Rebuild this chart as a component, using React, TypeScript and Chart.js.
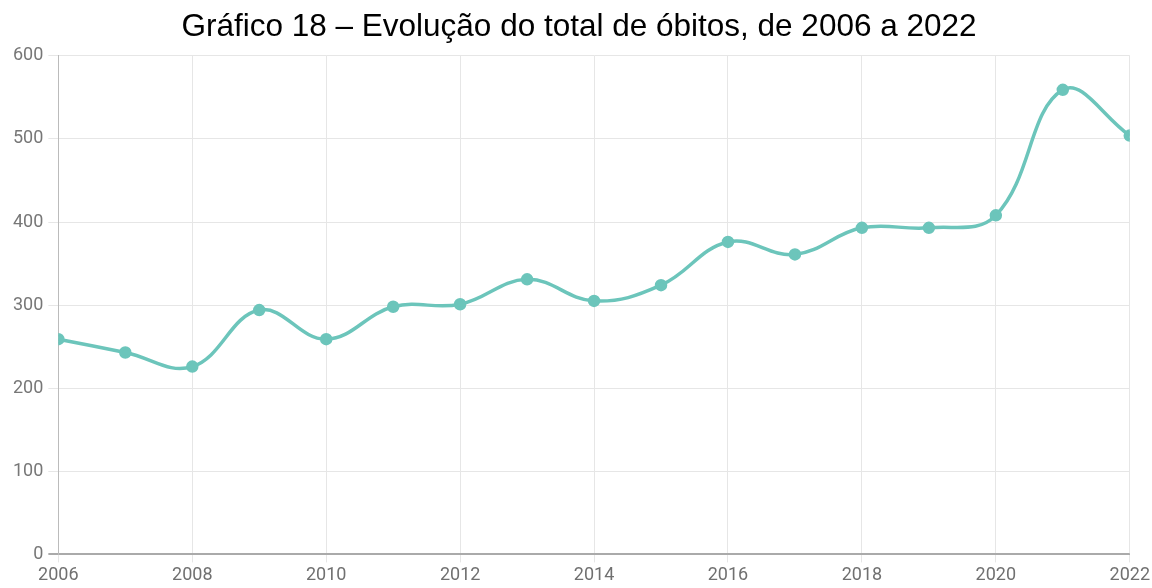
import React, { useEffect, useRef } from "react";
import { Chart, registerables } from "chart.js";

Chart.register(...registerables);

const years = [2006, 2007, 2008, 2009, 2010, 2011, 2012, 2013, 2014, 2015, 2016, 2017, 2018, 2019, 2020, 2021, 2022];
const deaths = [259, 243, 226, 294, 259, 298, 301, 331, 305, 324, 376, 361, 393, 393, 408, 559, 504];
const titleText = "Gráfico 18 – Evolução do total de óbitos, de 2006 a 2022";

export default function App() {
  const ref = useRef<HTMLCanvasElement | null>(null);
  useEffect(() => {
    document.body.style.margin = "0";
    const ctx = ref.current!;
    const chart = new Chart(ctx, {
      type: "line",
      data: {
        datasets: [
          {
            data: years.map((y, i) => ({ x: y, y: deaths[i] })),
            borderColor: "#6cc5bb",
            backgroundColor: "#6cc5bb",
            borderWidth: 3.5,
            pointRadius: 4.5,
            pointBackgroundColor: "#6cc5bb",
            pointBorderColor: "#6cc5bb",
            tension: 0.4,
            fill: false,
          },
        ],
      },
      options: {
        responsive: false,
        animation: false,
        layout: { padding: { left: 8, right: 2, top: 0, bottom: 0 } },
        plugins: {
          legend: { display: false },
          tooltip: { enabled: false },
          title: {
            display: true,
            text: titleText,
            color: "#000",
            font: { family: "'Liberation Sans', Arial, sans-serif", size: 31.5, weight: "normal", lineHeight: 1.2 },
            padding: { top: 8, bottom: 10 },
          },
        },
        scales: {
          x: {
            type: "linear",
            min: 2006,
            max: 2022,
            ticks: {
              stepSize: 2,
              color: "#707070",
              font: { family: "Roboto, sans-serif", size: 18 },
              padding: 2,
              callback: (v: any) => String(v),
              maxRotation: 0,
            },
            grid: { color: "#e6e6e6", tickLength: 8 },
            border: { color: "#aaa", width: 1 },
          },
          y: {
            min: 0,
            max: 600,
            ticks: {
              stepSize: 100,
              color: "#777",
              font: { family: "Roboto, sans-serif", size: 18 },
              padding: 5,
            },
            grid: { color: (c: any) => (c.tick && c.tick.value === 0 ? "#aaa" : "#e6e6e6"), lineWidth: (c: any) => (c.tick && c.tick.value === 0 ? 2 : 1), tickLength: 10 },
            border: { color: "#bbb", width: 1 },
          },
        },
      },
    });
    return () => chart.destroy();
  }, []);
  return <canvas ref={ref} width={1152} height={588} style={{ display: "block" }} />;
}
